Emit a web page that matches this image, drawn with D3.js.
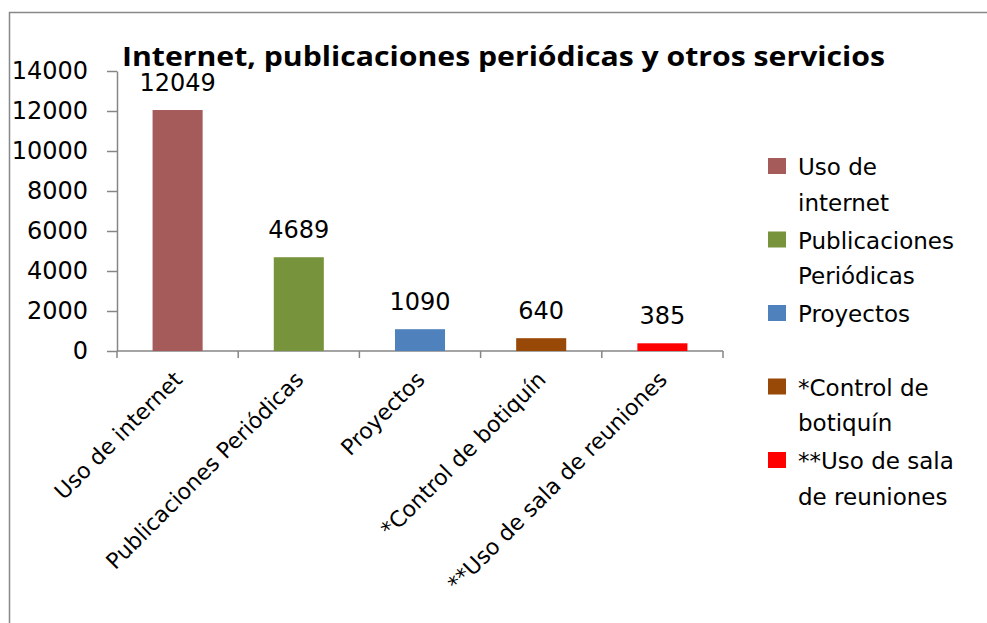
<!DOCTYPE html>
<html>
<head>
<meta charset="utf-8">
<script src="https://cdn.jsdelivr.net/npm/d3@7"></script>
<style>
  body { margin: 0; background: #fff; }
  svg { display: block; font-family: "DejaVu Sans", sans-serif; }
  .axis path, .axis line { stroke: #868686; stroke-width: 1.5; }
</style>
</head>
<body>
<svg id="chart" width="987" height="623"></svg>
<script>
'use strict';

const categories = ["Uso de internet", "Publicaciones Periódicas", "Proyectos",
                    "*Control de botiquín", "**Uso de sala de reuniones"];
const values = [12049, 4689, 1090, 640, 385];
const colors = ["#A65B5B", "#77933C", "#4F81BD", "#984807", "#FF0000"];
const yTicks = [0, 2000, 4000, 6000, 8000, 10000, 12000, 14000];
const legendLines = [["Uso de", "internet"], ["Publicaciones", "Periódicas"], ["Proyectos"],
                     ["*Control de", "botiquín"], ["**Uso de sala", "de reuniones"]];
const title = "Internet, publicaciones periódicas y otros servicios";

var svg = d3.select("#chart"),
    plot = {left: 117, right: 723, top: 71, bottom: 351};

var x = d3.scaleBand().domain(categories).range([plot.left, plot.right])
          .paddingInner(0.587).paddingOuter(0.2935),
    y = d3.scaleLinear().domain([0, 14000]).range([plot.bottom, plot.top]);

// chart frame (runs off the right and bottom)
svg.append("rect")
    .attr("x", 9.5).attr("y", 12.5)
    .attr("width", 1200).attr("height", 900)
    .attr("fill", "none").attr("stroke", "#888").attr("stroke-width", 1.5);

// y axis
var yAxis = svg.append("g")
    .attr("class", "axis")
    .attr("transform", "translate(" + plot.left + ",0)")
    .call(d3.axisLeft(y).tickValues(yTicks).tickFormat(d3.format("d"))
            .tickSize(10).tickPadding(19).tickSizeOuter(0));
yAxis.selectAll("text").style("font-size", "24px").attr("fill", "#000")
    .attr("font-family", "DejaVu Sans, sans-serif");

// x axis line with ticks at category boundaries
var xg = svg.append("g").attr("class", "axis");
xg.append("line")
    .attr("x1", plot.left).attr("x2", plot.right)
    .attr("y1", y(0)).attr("y2", y(0));
var bounds = categories.map(function(c) { return x(c) + x.bandwidth() / 2 - x.step() / 2; });
bounds.push(plot.right);
xg.selectAll(".xt").data(bounds).enter().append("line")
    .attr("class", "xt")
    .attr("x1", function(d) { return d; }).attr("x2", function(d) { return d; })
    .attr("y1", y(0)).attr("y2", y(0) + 7);

// bars
svg.selectAll(".bar").data(values).enter().append("rect")
    .attr("class", "bar")
    .attr("x", function(d, i) { return x(categories[i]); })
    .attr("width", x.bandwidth())
    .attr("y", function(d) { return y(d); })
    .attr("height", function(d) { return y(0) - y(d); })
    .attr("fill", function(d, i) { return colors[i]; });

// value labels
svg.selectAll(".val").data(values).enter().append("text")
    .attr("class", "val")
    .attr("x", function(d, i) { return x(categories[i]) + x.bandwidth() / 2; })
    .attr("y", function(d) { return y(d) - 19; })
    .attr("text-anchor", "middle")
    .style("font-size", "24px")
    .text(function(d) { return d; });

// category labels, rotated
svg.selectAll(".cat").data(categories).enter().append("text")
    .attr("class", "cat")
    .attr("transform", function(d) {
      return "translate(" + (x(d) + x.bandwidth() / 2 + 6) + "," + (y(0) + 30) + ") rotate(-45)";
    })
    .attr("text-anchor", "end")
    .style("font-size", "22px")
    .text(function(d) { return d; });

// title
svg.append("text")
    .attr("x", 122).attr("y", 66)
    .attr("font-family", "Open Sans, sans-serif")
    .style("font-size", "26px").style("font-weight", "bold")
    .attr("textLength", 763).attr("lengthAdjust", "spacingAndGlyphs")
    .text(title);

// legend
var leg = svg.selectAll(".leg").data(legendLines).enter().append("g")
    .attr("class", "leg")
    .attr("transform", function(d, i) { return "translate(768," + (158 + i * 73.5) + ")"; });
leg.append("rect")
    .attr("width", 18).attr("height", 16)
    .attr("fill", function(d, i) { return colors[i]; });
leg.append("text")
    .attr("x", 30).attr("y", 17)
    .style("font-size", "23px")
    .selectAll("tspan").data(function(d) { return d; }).enter().append("tspan")
      .attr("x", 30)
      .attr("dy", function(d, i) { return i ? 35.5 : 0; })
      .text(function(d) { return d; });
</script>
</body>
</html>
